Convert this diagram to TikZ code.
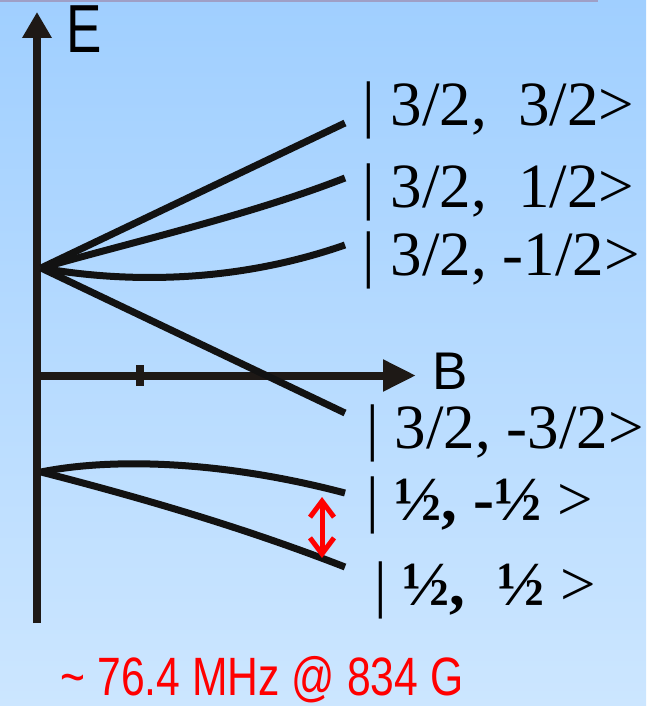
\documentclass[tikz,border=0pt]{standalone}
\usepackage{fontspec}
\setmainfont{Liberation Serif}
\setsansfont{Liberation Sans}
\usetikzlibrary{arrows.meta}
\definecolor{skytop}{HTML}{A0CFFF}
\definecolor{skybot}{HTML}{CCE6FF}
\definecolor{axisink}{HTML}{1E1916}
\definecolor{levelink}{HTML}{121212}
\begin{document}
\begin{tikzpicture}[
        x=1pt, y=-1pt,
        axis/.style={draw=axisink, line width=8pt},
        level/.style={draw=levelink, line width=7pt},
        state/.style={anchor=base west, inner sep=0pt, font=\fontsize{63}{68}\selectfont},
        axlabel/.style={anchor=base west, inner sep=0pt, font=\sffamily},
        gap/.style={draw=red, line width=5pt, {Straight Barb[length=16pt,width=24pt]}-{Straight Barb[length=16pt,width=24pt]}}
    ]
        \shade[top color=skytop, bottom color=skybot] (0,0) rectangle (646,706);
        \useasboundingbox (0,0) rectangle (646,706);
        \draw[gray!75!blue!60, line width=2pt] (0,1) -- (598,1);

        \coordinate (o32) at (41,268);
        \coordinate (o12) at (41,472);

        \draw[axis, -{Triangle[length=26pt,width=28pt]}] (37,623) -- (37,12);
        \draw[axis, -{Triangle[length=33pt,width=30pt]}] (37,375.5) -- (416,375.5);
        \draw[axis] (139.5,365) -- (139.5,386);

        \node[axlabel] (elab) at (66,53) {\fontsize{68}{68}\selectfont\scalebox{0.78}[1]{E}};
        \node[axlabel] (blab) at (432,389) {\fontsize{53}{53}\selectfont B};

        \draw[level] (o32) -- (345,123);
        \draw[level] (o32) .. controls (140,240) and (250,215) .. (345,178);
        \draw[level] (o32) .. controls (120,282) and (230,285) .. (345,245);
        \draw[level] (o32) -- (345,413);
        \draw[level] (o12) .. controls (110,458) and (220,460) .. (345,493);
        \draw[level] (o12) .. controls (150,500) and (250,530) .. (345,567);

        \node[state] (s33) at (362,125) {| 3/2,\ \ 3/2>};
        \node[state] (s31) at (362,207) {| 3/2,\ \ 1/2>};
        \node[state] (s3m1) at (362,275) {| 3/2, -1/2>};
        \node[state] (s3m3) at (366,448) {| 3/2, -3/2>};
        \node[state] (s1m1) at (366,520) {| \textbf{½, -½} >};
        \node[state] (s11) at (374,605) {| \textbf{½,\ \ ½} >};

        \coordinate (gtop) at (322,497);
        \coordinate (gbot) at (322,558);
        \draw[gap] (gtop) -- (gbot);

        \node[anchor=base, inner sep=0pt, text=red, font=\sffamily\fontsize{54}{54}\selectfont] (freq) at (262,695) {\scalebox{0.79}[1]{\textasciitilde\ 76.4 MHz @ 834 G}};
    \end{tikzpicture}
\end{document}
